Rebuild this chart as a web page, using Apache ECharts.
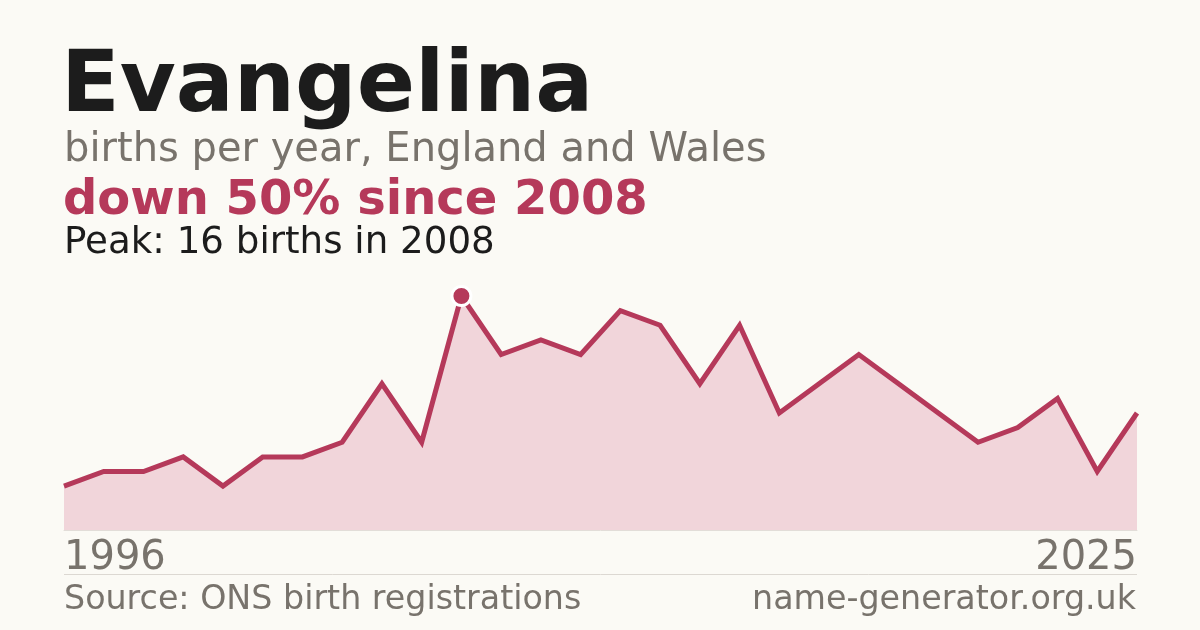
<!DOCTYPE html>
<html>
<head>
<meta charset="utf-8">
<script src="https://cdn.jsdelivr.net/npm/echarts@6/dist/echarts.min.js"></script>
<style>
  html, body { margin: 0; padding: 0; background: #fbfaf5; }
  #chart { width: 1200px; height: 630px; }
</style>
</head>
<body>
<div id="chart"></div>
<script>
// births per year (years with no published count are left out)
var years = ['1996','1997','1998','2000','2001','2003','2004','2005','2006','2007',
             '2008','2009','2010','2011','2012','2013','2014','2015','2016','2017',
             '2018','2019','2020','2021','2022','2023','2024','2025'];
var births = [3, 4, 4, 5, 3, 5, 5, 6, 10, 6,
              16, 12, 13, 12, 15, 14, 10, 14, 8, 10,
              12, 10, 8, 6, 7, 9, 4, 8];
var peakIndex = 10;

var red = '#b5395a';
var grey = '#78736c';
var font = 'DejaVu Sans';

var seriesData = births.map(function (v, i) {
  if (i === peakIndex) {
    return {
      value: v,
      symbol: 'circle',
      symbolSize: 19,
      itemStyle: { color: red, borderColor: '#ffffff', borderWidth: 3 }
    };
  }
  return v;
});

var chart = echarts.init(document.getElementById('chart'));
chart.setOption({
  backgroundColor: '#fbfaf5',
  animation: false,
  grid: { left: 64, right: 63, top: 296, bottom: 100 },
  xAxis: {
    type: 'category',
    data: years,
    boundaryGap: false,
    axisLine: { show: true, lineStyle: { color: '#e2ddd8', width: 1 } },
    axisTick: { show: false },
    axisLabel: {
      interval: function (i) { return i === 0 || i === years.length - 1; },
      alignMinLabel: 'left',
      alignMaxLabel: 'right',
      fontFamily: font,
      fontSize: 40,
      color: grey,
      margin: 9
    },
    splitLine: { show: false }
  },
  yAxis: {
    type: 'value',
    min: 0,
    max: 16,
    show: false
  },
  series: [{
    type: 'line',
    data: seriesData,
    clip: false,
    symbol: 'none',
    lineStyle: { color: red, width: 5, join: 'miter' },
    areaStyle: { color: '#f1d5da', opacity: 1 },
    z: 3
  }],
  graphic: [
    { type: 'text', left: 61, top: 46,
      style: { text: 'Evangelina', fontFamily: font, fontWeight: 'bold', fontSize: 86, fill: '#1c1c1c' } },
    { type: 'text', left: 64, top: 131,
      style: { text: 'births per year, England and Wales', fontFamily: font, fontSize: 40, fill: grey } },
    { type: 'text', left: 63, top: 178,
      style: { text: 'down 50% since 2008', fontFamily: font, fontWeight: 'bold', fontSize: 48, fill: red } },
    { type: 'text', left: 64, top: 225,
      style: { text: 'Peak: 16 births in 2008', fontFamily: font, fontSize: 37.2, fill: '#1c1c1c' } },
    { type: 'line', shape: { x1: 64, y1: 574.5, x2: 1137, y2: 574.5 },
      style: { stroke: '#dcd8d2', lineWidth: 1 } },
    { type: 'text', left: 64, top: 584,
      style: { text: 'Source: ONS birth registrations', fontFamily: font, fontSize: 33.3, fill: grey } },
    { type: 'text', right: 64, top: 584,
      style: { text: 'name-generator.org.uk', fontFamily: font, fontSize: 33.3, fill: grey } }
  ]
});
</script>
</body>
</html>
